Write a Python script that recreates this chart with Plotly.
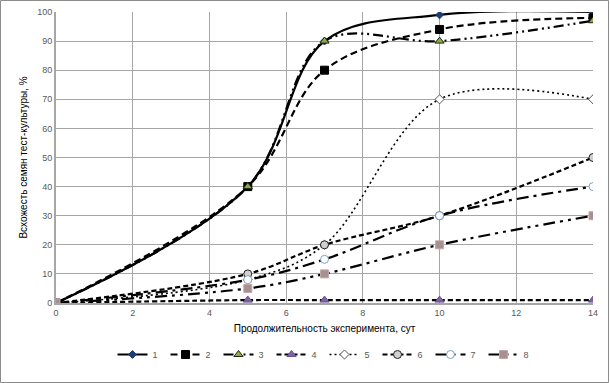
import plotly.graph_objects as go

days = [0, 5, 7, 10, 14]
s1 = [0, 40, 90, 99, 100]
s2 = [0, 40, 80, 94, 98]
s3 = [0, 40, 90, 90, 97]
s4 = [0, 1, 1, 1, 1]
s5 = [0, 8, 20, 70, 70]
s6 = [0, 10, 20, 30, 50]
s7 = [0, 8, 15, 30, 40]
s8 = [0, 5, 10, 20, 30]
names = ["1", "2", "3", "4", "5", "6", "7", "8"]
x_ticks = [0, 2, 4, 6, 8, 10, 12, 14]
y_ticks = [0, 10, 20, 30, 40, 50, 60, 70, 80, 90, 100]

styles = [
    dict(dash="solid", width=2.2, symbol="diamond", size=6, mcolor="#1f3b73", mline="#1f3b73"),
    dict(dash="7px,4px", width=2.2, symbol="square", size=8, mcolor="#000000", mline="#000000"),
    dict(dash="10px,4px,2px,4px,2px,4px", width=2.2, symbol="triangle-up", size=8, mcolor="#8fa84a", mline="#1e2a10"),
    dict(dash="5px,3px", width=2.2, symbol="triangle-up", size=8, mcolor="#8064a2", mline="#6a5090"),
    dict(dash="2px,3px", width=1.6, symbol="diamond", size=7, mcolor="#ffffff", mline="#555555"),
    dict(dash="5px,3px", width=2.2, symbol="circle", size=8, mcolor="#d0d0d0", mline="#222222"),
    dict(dash="12px,5px,3px,5px", width=2.2, symbol="circle", size=8, mcolor="#ffffff", mline="#7f9fd0"),
    dict(dash="12px,5px,3px,5px,3px,5px", width=2.2, symbol="square", size=8, mcolor="#a89090", mline="#c0a8a8"),
]
series = [s1, s2, s3, s4, s5, s6, s7, s8]

fig = go.Figure()
for nm, ys, st in zip(names, series, styles):
    fig.add_trace(go.Scatter(
        x=days, y=ys, name=nm, mode="lines+markers",
        line=dict(color="#000000", width=st["width"], dash=st["dash"], shape="spline", smoothing=1.0),
        marker=dict(symbol=st["symbol"], size=st["size"], color=st["mcolor"],
                    line=dict(color=st["mline"], width=1)),
    ))

PW, PH = 537, 291
fig.update_layout(
    width=610, height=383,
    margin=dict(l=56, r=17, t=12, b=80, autoexpand=False),
    paper_bgcolor="white", plot_bgcolor="white",
    font=dict(family="Liberation Sans, Arial, sans-serif", size=9, color="#595959"),
    showlegend=True,
    legend=dict(orientation="h", x=0.5, xanchor="center", y=-37 / PH, yanchor="top",
                font=dict(size=9, color="#595959"), entrywidth=8, entrywidthmode="pixels",
                tracegroupgap=0),
    xaxis=dict(range=[0, 14], tickvals=x_ticks, showgrid=True, gridcolor="#a6a6a6", gridwidth=1,
               zeroline=False, showline=True, linecolor="#a6a6a6", linewidth=2, automargin=False,
               ticks="", title=dict(text="Продолжительность эксперимента, сут",
                                     font=dict(size=10, color="#000000"), standoff=8)),
    yaxis=dict(range=[0, 100], tickvals=y_ticks, showgrid=True, gridcolor="#a6a6a6", gridwidth=1,
               zeroline=False, showline=True, linecolor="#a6a6a6", linewidth=2, automargin=False,
               ticks="", title=dict(text="Всхожесть семян тест-культуры, %",
                                     font=dict(size=10, color="#000000"), standoff=8)),
    shapes=[dict(type="rect", xref="paper", yref="paper",
                 x0=-55.5 / PW, x1=1 + 15.5 / PW, y0=-79.5 / PH, y1=1 + 11.5 / PH,
                 line=dict(color="#8c8c8c", width=1))],
)
fig.write_html("out.html", config={"displayModeBar": False},
               post_script="document.body.style.margin='0';")
